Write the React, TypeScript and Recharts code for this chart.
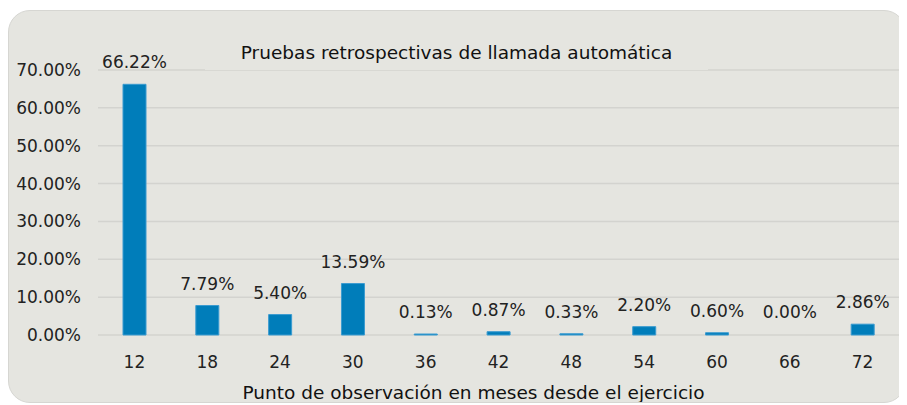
import React from 'react';
import { BarChart, Bar, XAxis, YAxis, CartesianGrid, LabelList, Label, Cell } from 'recharts';

const months = ['12', '18', '24', '30', '36', '42', '48', '54', '60', '66', '72'];
const shares = [66.22, 7.79, 5.4, 13.59, 0.13, 0.87, 0.33, 2.2, 0.6, 0.0, 2.86];
const yTicks = [0, 10, 20, 30, 40, 50, 60, 70];

const chartTitle = 'Pruebas retrospectivas de llamada automática';
const xTitle = 'Punto de observación en meses desde el ejercicio';

const FONT = '"DejaVu Sans", sans-serif';
const BG = '#e5e5e0';

const chartData = months.map((m, i) => ({ month: m, share: shares[i] }));

const pct = (v: number) => `${Number(v).toFixed(2)}%`;

export default function App() {
  return (
    <div
      style={{
        position: 'relative',
        marginTop: 2,
        width: 898,
        height: 393,
        boxSizing: 'border-box',
        background: BG,
        border: '1.5px solid #d6d6d2',
        borderRadius: 22,
        fontFamily: FONT,
      }}
    >
      <BarChart
        width={896}
        height={391}
        data={chartData}
        margin={{ top: 59, right: 6, left: 0, bottom: 0 }}
        barCategoryGap={0}
      >
        <CartesianGrid vertical={false} stroke="#d3d3cf" strokeWidth={1.5} />
        <XAxis
          dataKey="month"
          axisLine={false}
          tickLine={false}
          tickSize={0}
          tickMargin={21}
          height={67}
          tick={{ fill: '#222', fontSize: 17, fontFamily: FONT }}
        >
          <Label
            value={xTitle}
            position="insideBottom"
            offset={3}
            dx={-25}
            style={{ fill: '#111', fontSize: 18.5, fontFamily: FONT }}
          />
        </XAxis>
        <YAxis
          domain={[0, 70]}
          ticks={yTicks}
          tickFormatter={pct}
          axisLine={false}
          tickLine={false}
          tickSize={0}
          tickMargin={17}
          width={89}
          tick={{ fill: '#222', fontSize: 17, fontFamily: FONT }}
        />
        <Bar
          dataKey="share"
          fill="#007dba"
          stroke="#3b9bd0"
          strokeWidth={1}
          barSize={23}
          minPointSize={1}
          isAnimationActive={false}
        >
          {chartData.map((d) => (
            <Cell
              key={d.month}
              fill={d.share === 0 ? 'transparent' : '#007dba'}
              stroke={d.share === 0 ? 'none' : '#3b9bd0'}
            />
          ))}
          <LabelList
            dataKey="share"
            position="top"
            offset={16}
            formatter={(v: any) => pct(v)}
            style={{ fill: '#222', fontSize: 17, fontFamily: FONT }}
          />
        </Bar>
      </BarChart>
      <div
        style={{
          position: 'absolute',
          left: 196,
          top: 23,
          width: 503,
          height: 36,
          background: BG,
          display: 'flex',
          alignItems: 'center',
          justifyContent: 'center',
          fontSize: 18.5,
          color: '#111',
          whiteSpace: 'nowrap',
        }}
      >
        {chartTitle}
      </div>
    </div>
  );
}
